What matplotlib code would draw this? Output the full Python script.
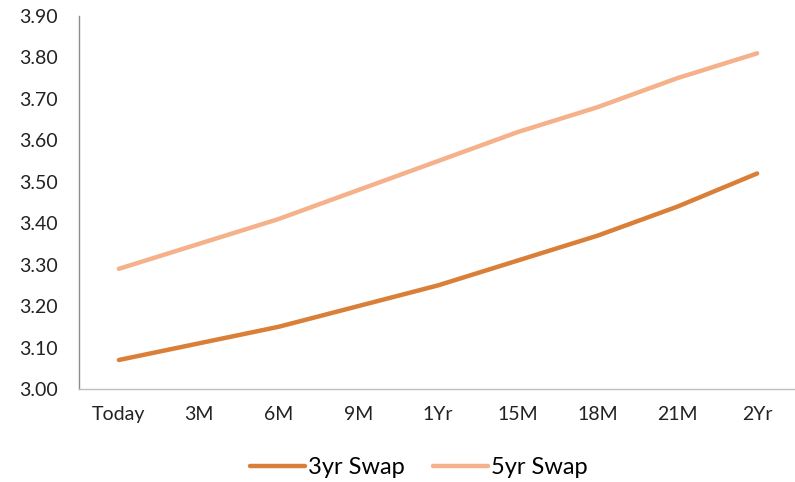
import matplotlib
matplotlib.use("Agg")
import matplotlib.pyplot as plt

plt.rcParams['font.family'] = ['Lato', 'DejaVu Sans']

tenors = ["Today", "3M", "6M", "9M", "1Yr", "15M", "18M", "21M", "2Yr"]
swap_3yr = [3.07, 3.11, 3.15, 3.20, 3.25, 3.31, 3.37, 3.44, 3.52]
swap_5yr = [3.29, 3.35, 3.41, 3.48, 3.55, 3.62, 3.68, 3.75, 3.81]
y_ticks = [3.00, 3.10, 3.20, 3.30, 3.40, 3.50, 3.60, 3.70, 3.80, 3.90]

fig = plt.figure(figsize=(7.95, 4.82), dpi=100)
ax = fig.add_axes([79 / 795, 1 - 389 / 482, 718 / 795, (389 - 16) / 482])

x = range(len(tenors))
ax.plot(x, swap_3yr, color="#D97F38", lw=3.2, solid_capstyle="round",
        solid_joinstyle="round", label="3yr Swap")
ax.plot(x, swap_5yr, color="#F5B18A", lw=3.2, solid_capstyle="round",
        solid_joinstyle="round", label="5yr Swap")

ax.set_xlim(-0.5, len(tenors) - 0.5)
ax.set_ylim(3.0, 3.9)
ax.set_xticks(list(x))
ax.set_xticklabels(tenors)
ax.set_yticks(y_ticks)
ax.set_yticklabels([f"{v:.2f}" for v in y_ticks])
ax.tick_params(axis="both", length=0, labelsize=14, colors="#222222")
ax.tick_params(axis="x", pad=12)
ax.tick_params(axis="y", pad=15)

for s in ("top", "right"):
    ax.spines[s].set_visible(False)
ax.spines["left"].set_color("#8C8C8C")
ax.spines["bottom"].set_color("#BFBFBF")
ax.spines["left"].set_linewidth(1.0)
ax.spines["bottom"].set_linewidth(1.0)

fig.legend(loc="center", bbox_to_anchor=(419 / 795, 1 - 468 / 482), ncol=2,
           frameon=False, fontsize=17, handlelength=2.3, handletextpad=0.15,
           columnspacing=1.2)

fig.savefig("out.png", dpi=100)
